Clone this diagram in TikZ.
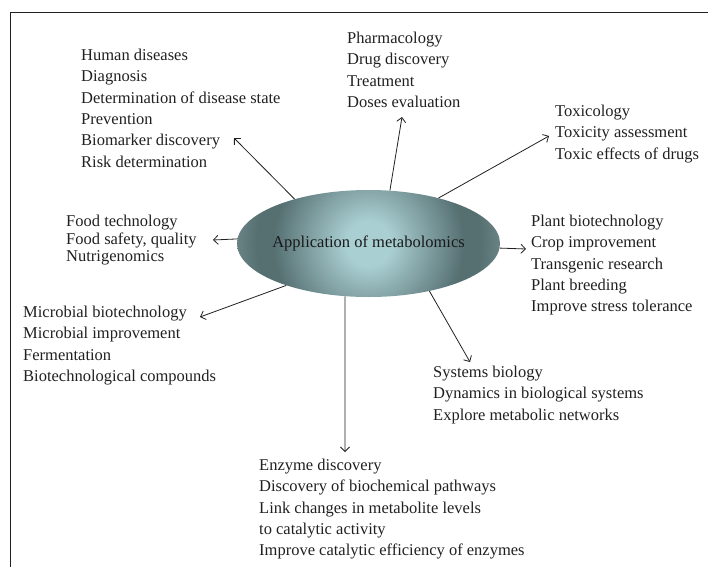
\documentclass[tikz,border=0pt]{standalone}
\usepackage{fontspec}
\setmainfont{Liberation Serif}
\usetikzlibrary{shapes.geometric,arrows.meta}
\definecolor{inkgrey}{RGB}{32,32,32}
\definecolor{hublight}{RGB}{170,207,210}
\definecolor{hubdark}{RGB}{86,112,114}
\definecolor{hubrim}{RGB}{108,134,136}
\pgfdeclareradialshading{hubshade}{\pgfpointorigin}{color(0bp)=(hublight); color(4bp)=(hublight); color(17bp)=(hubdark); color(20bp)=(hubdark); color(24bp)=(hubrim); color(50bp)=(hubrim)}
\begin{document}
\begin{tikzpicture}[x=1pt,y=-1pt,
  txt/.style={anchor=north west,inner sep=0pt,align=left,text=inkgrey,
    font=\fontsize{16.5}{21.3}\selectfont},
  hub/.style={ellipse,minimum width=263pt,minimum height=107pt,inner sep=0pt},
  arr/.style={-{Straight Barb[length=4.5pt,width=9pt]},draw=inkgrey,line width=0.8pt}]
\useasboundingbox (0,0) rectangle (708,567);
\draw[inkgrey,line width=0.9pt] (708,12)--(10,12)--(10,567);

\node[hub] (app) at (368.5,243.5) {};
\begin{scope}
\clip (app.center) ellipse [x radius=131.5pt,y radius=53.5pt];
\shade[shading=hubshade] (app.center) circle [radius=140pt];
\end{scope}
\node[text=black!90,font=\fontsize{16.5}{20}\selectfont] (applbl) at (app) {Application of metabolomics};

\node[txt] (hum) at (81,49) {Human diseases\\Diagnosis\\Determination of disease state\\Prevention\\Biomarker discovery\\Risk determination};
\node[txt] (pha) at (347,32) {Pharmacology\\Drug discovery\\Treatment\\Doses evaluation};
\node[txt] (tox) at (555,105) {Toxicology\\Toxicity assessment\\Toxic effects of drugs};
\node[txt,font=\fontsize{16.5}{17.5}\selectfont] (food) at (66,215) {Food technology\\Food safety, quality\\Nutrigenomics};
\node[txt] (mic) at (23,306) {Microbial biotechnology\\Microbial improvement\\Fermentation\\Biotechnological compounds};
\node[txt] (pla) at (531,215) {Plant biotechnology\\Crop improvement\\Transgenic research\\Plant breeding\\Improve stress tolerance};
\node[txt] (sys) at (433,366) {Systems biology\\Dynamics in biological systems\\Explore metabolic networks};
\node[txt] (enz) at (259,459) {Enzyme discovery\\Discovery of biochemical pathways\\Link changes in metabolite levels\\to catalytic activity\\Improve catalytic efficiency of enzymes};

\coordinate (humtip) at (234,138);
\coordinate (phatip) at (402,117);
\coordinate (toxtip) at (549,136);
\coordinate (foodtip) at (213,240);
\coordinate (mictip) at (200,317);
\coordinate (platip) at (526,249);
\coordinate (systip) at (470,362);
\coordinate (enztip) at (345,452);

\draw[arr] (app.149.5)--(humtip);
\draw[arr] (app.68)--(phatip);
\draw[arr] (app.33)--(toxtip);
\draw[arr] (app.178.5)--(foodtip);
\draw[arr] (app.207)--(mictip);
\draw[arr] (app.-2.4)--(platip);
\draw[arr] (app.-38.7)--(systip);
\draw[arr] (app.246)--(enztip);
\end{tikzpicture}
\end{document}
